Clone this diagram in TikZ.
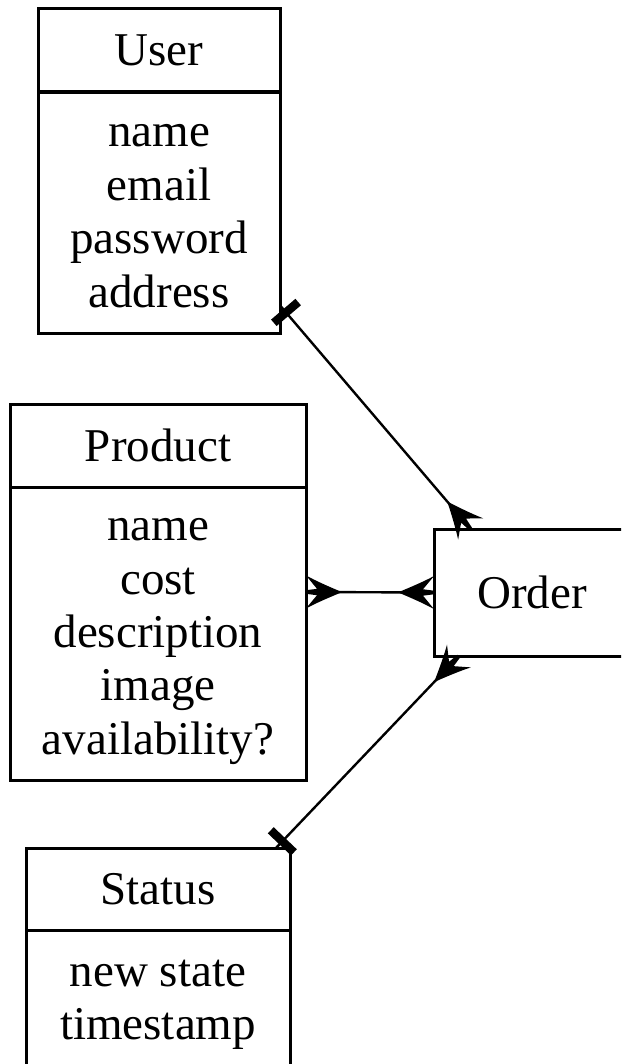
\documentclass[tikz,border=0pt]{standalone}
\usepackage{fontspec}
\setmainfont{Liberation Serif}
\usetikzlibrary{fit,decorations.markings}

% crow's foot: prongs at the node border, point along the edge
\newcommand\crowfoot[1]{%
  \fill[xscale=#1] (-36,0) .. controls (-24,5) and (-10,11) .. (0,16.5)
    -- (-11,3.2) -- (0,1.8) -- (0,-1.8) -- (-11,-3.2)
    -- (0,-16.5) .. controls (-10,-11) and (-24,-5) .. (-36,0) -- cycle;}
% "exactly one" bar just off the node border
\newcommand\teebar{\fill (5,-16) rectangle (13.5,16);}
% first-line strut, so each line sits on a full-height row
\newcommand\topstrut{\rule{0pt}{44pt}}

\tikzset{
  box/.style={draw, line width=3pt, inner sep=0pt, outer sep=0pt,
    align=center, font=\fontsize{47}{53.4}\selectfont},
  whole/.style={inner sep=0pt, outer sep=0pt},
  link/.style={line width=2.4pt},
  crow end/.style={postaction={decorate,decoration={markings,
    mark=at position 1 with {\crowfoot{1}}}}},
  crow start/.style={postaction={decorate,decoration={markings,
    mark=at position 0 with {\crowfoot{-1}}}}},
  tee start/.style={postaction={decorate,decoration={markings,
    mark=at position 0 with {\teebar}}}},
}

\begin{document}
\begin{tikzpicture}[x=1pt, y=-1pt]
\useasboundingbox (0,0) rectangle (621,1064);
\clip (0,0) rectangle (621,1064);

% User
\node[box, minimum width=242pt, minimum height=83pt] (userh) at (159,50.5) {User};
\node[box, minimum width=242pt, minimum height=240pt] (userb) at (159,213)
  {\topstrut name\\email\\password\\\strut address};
\node[whole, fit=(userh)(userb)] (user) {};

% Product
\node[box, minimum width=296pt, minimum height=83pt] (producth) at (158,445.5) {Product};
\node[box, minimum width=296pt, minimum height=293pt] (productb) at (158,633.5)
  {\topstrut name\\cost\\description\\image\\\strut availability?};
\node[whole, fit=(producth)(productb)] (product) {};

% Order
\node[box, minimum width=196pt, minimum height=127pt] (order) at (532,592.5) {Order};

% Status
\node[box, minimum width=264pt, minimum height=82pt] (statush) at (158,889) {Status};
\node[box, minimum width=264pt, minimum height=138pt] (statusb) at (158,999)
  {\topstrut new state\\\strut timestamp};
\node[whole, fit=(statush)(statusb)] (status) {};

% relations
\draw[link, tee start, crow end] (user.-48.2) -- (order.134.3);
\draw[link, crow start, crow end] (product.east) -- (order.west);
\draw[link, tee start, crow end] (status.43.7) -- (order.221.9);
\end{tikzpicture}
\end{document}
